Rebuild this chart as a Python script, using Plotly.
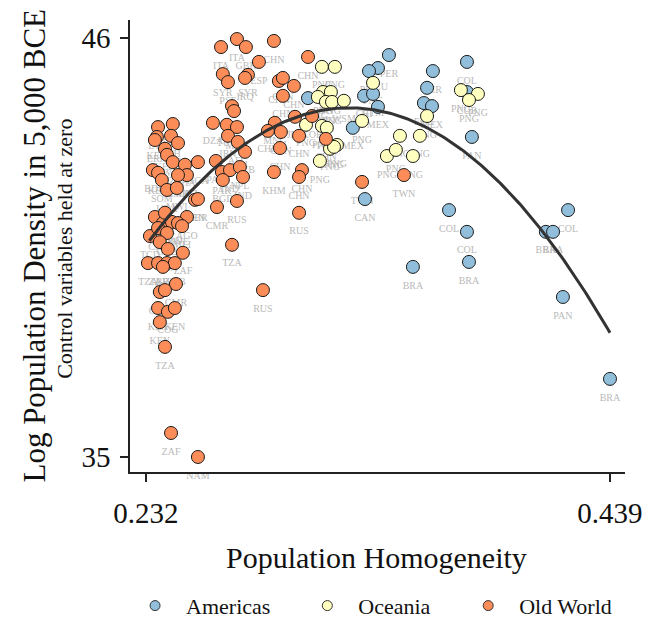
import numpy as np
import plotly.graph_objects as go

# ---------------- data ----------------
am_x = [0.3404, 0.3355, 0.3315, 0.3293, 0.3333, 0.3355, 0.3600, 0.3574, 0.3560, 0.3596,
        0.3752, 0.3752, 0.3774, 0.3243, 0.3297, 0.3043, 0.3672, 0.3752, 0.3511, 0.3761,
        0.4104, 0.4136, 0.4203, 0.4180, 0.4390]
am_y = [45.55, 45.21, 45.13, 44.48, 44.53, 44.19, 45.13, 44.69, 44.29, 44.21,
        45.37, 44.58, 43.40, 43.64, 41.77, 44.42, 41.48, 40.91, 39.99, 40.12,
        40.91, 40.91, 41.48, 39.20, 37.05]
am_lab = ["PER", "ECU", "PER", "CRI", "GTM", "MEX", "PER", "PER", "ECU", "MEX",
          "COL", "CUB", "PAN", "MEX", "CAN", "USA", "COL", "COL", "BRA", "BRA",
          "BRA", "BRA", "COL", "PAN", "BRA"]

oc_x = [0.3105, 0.3163, 0.3333, 0.3110, 0.3145, 0.3087, 0.3123, 0.3150, 0.3203, 0.3725,
        0.3801, 0.3761, 0.3574, 0.3284, 0.3034, 0.3105, 0.3127, 0.3453, 0.3542, 0.3172,
        0.3141, 0.3159, 0.3096, 0.3395, 0.3435, 0.3511]
oc_y = [45.24, 45.24, 44.82, 44.58, 44.58, 44.45, 44.32, 44.32, 44.35, 44.63,
        44.53, 44.37, 43.95, 43.82, 43.72, 43.69, 43.64, 43.43, 43.43, 43.19,
        43.09, 43.14, 42.77, 42.90, 43.06, 42.90]
oc_lab = ["PNG", "PNG", "PNG", "PNG", "PNG", "PNG", "PNG", "PNG", "WSM", "PNG",
          "PNG", "PNG", "PNG", "PNG", "PNG", "PNG", "PNG", "PNG", "PNG", "PNG",
          "PNG", "PNG", "PNG", "PNG", "PNG", "PNG"]

ow_x = [0.2655, 0.2726, 0.2766, 0.2891, 0.2824, 0.2663, 0.2686, 0.2775, 0.2762, 0.2913,
        0.2931, 0.2980, 0.2931, 0.3043, 0.2704, 0.2713,
        0.2374, 0.2440, 0.2369, 0.2360, 0.2432, 0.2463, 0.2405, 0.2414, 0.2552, 0.2440,
        0.2494, 0.2351, 0.2374, 0.2391, 0.2414, 0.2458, 0.2503, 0.2463, 0.2539, 0.2503,
        0.2360, 0.2396, 0.2436, 0.2463, 0.2405, 0.2481, 0.2338, 0.2374, 0.2414, 0.2382,
        0.2418, 0.2485, 0.2329, 0.2374, 0.2414, 0.2449, 0.2396, 0.2454, 0.2382, 0.2405,
        0.2374, 0.2418, 0.2449, 0.2382, 0.2405, 0.2432, 0.2552,
        0.2619, 0.2681, 0.2726, 0.2686, 0.2730, 0.2762, 0.2895, 0.2922, 0.2864, 0.2985,
        0.3061, 0.2918, 0.3003, 0.3123, 0.2632, 0.2659, 0.2695, 0.2739, 0.2753, 0.2891,
        0.3016, 0.3003, 0.2552, 0.2726, 0.2637, 0.3003, 0.2704, 0.2842, 0.3284, 0.3471,
        0.2663]
ow_y = [45.76, 45.97, 45.76, 45.92, 45.37, 45.05, 44.84, 45.03, 44.95, 44.87,
        44.95, 44.74, 44.48, 45.50, 44.21, 44.08,
        43.66, 43.74, 43.40, 43.32, 43.43, 43.24, 43.09, 42.93, 42.74, 42.74,
        42.67, 42.53, 42.46, 42.27, 42.01, 42.06, 42.40, 42.40, 41.75, 41.30,
        41.30, 41.14, 41.17, 41.14, 41.41, 41.06, 40.80, 41.01, 40.88, 40.64,
        40.46, 40.36, 40.09, 40.09, 40.09, 40.09, 39.99, 39.54, 39.33, 39.38,
        38.91, 38.81, 38.91, 38.54, 37.89, 35.63, 35.00,
        43.77, 43.72, 43.66, 43.43, 43.27, 43.01, 43.77, 43.53, 43.56, 43.93,
        43.95, 43.11, 43.43, 43.35, 42.77, 42.48, 42.53, 42.61, 42.35, 42.48,
        42.53, 42.35, 41.77, 41.72, 41.56, 41.41, 40.57, 39.38, 42.22, 42.40,
        42.27]
ow_lab = ["ITA", "ITA", "GBR", "CHN", "ESP", "SYR", "PSE", "SYR", "IRQ", "CHN",
          "CHN", "CHN", "CHN", "CHN", "EGY", "EGY",
          "ETH", "SDN", "KEN", "ERI", "ETH", "UGA", "KEN", "RWA", "NGA", "TZA",
          "GHA", "BDI", "KEN", "SOM", "UGA", "MWI", "MOZ", "ZMB", "KEN", "AGO",
          "TZA", "CMR", "COD", "ZWE", "NER", "MLI", "TCD", "CAF", "GAB", "TZA",
          "SEN", "ZAF", "TZA", "ZAF", "BWA", "ZMB", "TZA", "CMR", "CMR", "COG",
          "KEN", "COG", "KEN", "KEN", "TZA", "ZAF", "NAM",
          "DZA", "TUN", "MAR", "IRN", "AFG", "UZB", "MNG", "CHN", "CHN", "JPN",
          "KOR", "CHN", "CHN", "CHN", "PAK", "PAK", "IND", "NPL", "IND", "KHM",
          "CHN", "CHN", "LBR", "RUS", "CMR", "RUS", "TZA", "RUS", "TWN", "TWN",
          "BGD"]

# quadratic fit shown in the chart: y = fit_k + fit_a * (x - fit_h)^2
fit_a = -437.4
fit_h = 0.3228
fit_k = 44.165
fit_xmin, fit_xmax = 0.2335, 0.4390

x_ticks = [0.232, 0.439]
x_ticklabels = ["0.232", "0.439"]
y_ticks = [35, 46]
y_ticklabels = ["35", "46"]

groups = [("Americas", am_x, am_y, am_lab, "#91bfdb"),
          ("Oceania", oc_x, oc_y, oc_lab, "#ffffbf"),
          ("Old World", ow_x, ow_y, ow_lab, "#fc8d59")]

SERIF = "Liberation Serif, Times New Roman, serif"

fig = go.Figure()

# labels (drawn beneath the markers); invisible marker pushes text below the point
for name, xs, ys, labs, col in groups:
    fig.add_trace(go.Scatter(
        x=xs, y=ys, mode="markers+text", text=labs, textposition="bottom center",
        marker=dict(size=21, color="rgba(0,0,0,0)"),
        textfont=dict(family=SERIF, size=10, color="#b9b9b9"),
        showlegend=False, hoverinfo="skip", cliponaxis=False))

# markers
for name, xs, ys, labs, col in groups:
    fig.add_trace(go.Scatter(
        x=xs, y=ys, mode="markers", name=name, showlegend=False,
        marker=dict(size=13, color=col, line=dict(color="#1a1a1a", width=1)),
        cliponaxis=False))

# fit line
fx = np.linspace(fit_xmin, fit_xmax, 200)
fy = fit_k + fit_a * (fx - fit_h) ** 2
fig.add_trace(go.Scatter(x=fx, y=fy, mode="lines", showlegend=False,
                         line=dict(color="#333333", width=3), hoverinfo="skip"))

# legend entries (one legend each, for exact placement)
leg_pos = [-0.012, 0.336, 0.661]
for i, (name, xs, ys, labs, col) in enumerate(groups):
    lg = "legend" if i == 0 else f"legend{i+1}"
    fig.add_trace(go.Scatter(
        x=[None], y=[None], mode="markers", name=name, legend=lg,
        marker=dict(size=10, color=col, line=dict(color="#333333", width=1))))

leg_common = dict(orientation="h", yanchor="middle", y=-0.296, xanchor="left",
                  itemwidth=52, bgcolor="rgba(0,0,0,0)",
                  font=dict(family=SERIF, size=22, color="#111111"))
fig.update_layout(
    legend=dict(x=leg_pos[0], **leg_common),
    legend2=dict(x=leg_pos[1], **leg_common),
    legend3=dict(x=leg_pos[2], **leg_common),
)

fig.update_xaxes(range=[0.2249, 0.4457], tickvals=x_ticks, ticktext=x_ticklabels,
                 showgrid=False, zeroline=False, showline=True, linecolor="#222222",
                 linewidth=1.5, ticks="outside", ticklen=8, tickwidth=1.5,
                 tickcolor="#222222", ticklabelstandoff=6, automargin=False,
                 tickfont=dict(family=SERIF, size=29, color="#111111"))
fig.update_yaxes(range=[34.606, 46.47], tickvals=y_ticks, ticktext=y_ticklabels,
                 showgrid=False, zeroline=False, showline=True, linecolor="#222222",
                 linewidth=1.5, ticks="outside", ticklen=8, tickwidth=1.5,
                 tickcolor="#222222", ticklabelstandoff=4, automargin=False,
                 tickfont=dict(family=SERIF, size=29, color="#111111"))

fig.update_layout(
    width=646, height=620,
    margin=dict(l=130, r=21, t=20, b=148, autoexpand=False),
    plot_bgcolor="white", paper_bgcolor="white",
    font=dict(family=SERIF),
    annotations=[
        dict(text="Population Homogeneity", xref="paper", yref="paper",
             x=0.498, y=-0.190, xanchor="center", yanchor="middle", showarrow=False,
             font=dict(family=SERIF, size=30, color="#111111")),
        dict(text="Log Population Density in 5,000 BCE", xref="paper", yref="paper",
             x=-0.193, y=0.502, xanchor="center", yanchor="middle", showarrow=False,
             textangle=-90, font=dict(family=SERIF, size=31, color="#111111")),
        dict(text="Control variables held at zero", xref="paper", yref="paper",
             x=-0.134, y=0.493, xanchor="center", yanchor="middle", showarrow=False,
             textangle=-90, font=dict(family=SERIF, size=22, color="#111111")),
    ],
)

# remove the default page margin so the 646x620 figure fills the window exactly
fig.write_html("out.html",
               config={"displayModeBar": False},
               post_script="document.body.style.margin='0';document.body.style.overflow='hidden';")
